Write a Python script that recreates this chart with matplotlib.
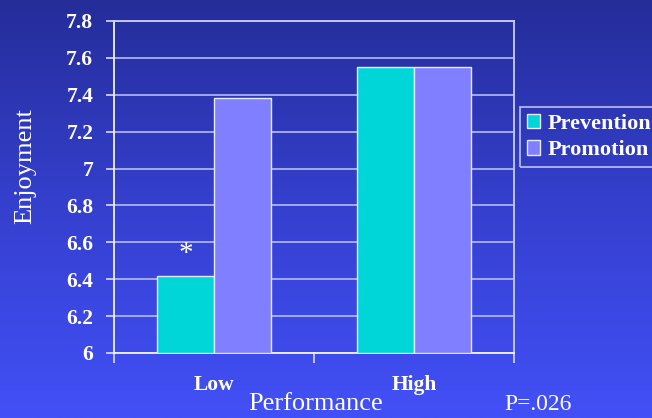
import numpy as np
import matplotlib.pyplot as plt
from matplotlib.colors import LinearSegmentedColormap

# data
categories = ["Low", "High"]
prevention = [6.42, 7.55]
promotion = [7.38, 7.55]
yticks = [6, 6.2, 6.4, 6.6, 6.8, 7, 7.2, 7.4, 7.6, 7.8]
ytick_labels = ["6", "6.2", "6.4", "6.6", "6.8", "7", "7.2", "7.4", "7.6", "7.8"]

plt.rcParams["font.family"] = ["Liberation Serif", "DejaVu Serif"]

W, H = 652, 418
fig = plt.figure(figsize=(W / 100, H / 100), dpi=100)

# blue gradient background (dark at top, brighter at bottom)
bg = fig.add_axes([0, 0, 1, 1], zorder=-10)
grad = LinearSegmentedColormap.from_list("slide", ["#252d99", "#3540cf", "#4250f7"])
bg.imshow(np.linspace(0, 1, 256).reshape(-1, 1), aspect="auto", cmap=grad,
          extent=[0, 1, 0, 1])
bg.axis("off")

ax = fig.add_axes([114 / W, (H - 353) / H, 400 / W, 332 / H])
ax.patch.set_alpha(0)

x = np.arange(len(categories)) + 0.5
bw = 0.285
ax.bar(x - bw / 2, np.array(prevention) - 6, bw, bottom=6, color="#00d6d8",
       edgecolor="#e8ecff", linewidth=1, label="Prevention", zorder=3)
ax.bar(x + bw / 2, np.array(promotion) - 6, bw, bottom=6, color="#7f7fff",
       edgecolor="#e8ecff", linewidth=1, label="Promotion", zorder=3)

ax.set_xlim(0, 2)
ax.set_ylim(6, 7.8)
ax.set_yticks(yticks)
ax.set_yticklabels(ytick_labels, fontsize=15.5, fontweight="bold", color="white")
ax.grid(axis="y", color="#aab2f2", linewidth=1.3, zorder=1)

ax.set_xticks([0, 1, 2])
ax.set_xticklabels([])
ax.set_xticks(x, minor=True)
ax.set_xticklabels(categories, minor=True, fontsize=15.5, fontweight="bold",
                   color="white")
ax.tick_params(axis="x", which="minor", length=0, pad=16)
ax.tick_params(axis="x", which="major", length=7, width=1.2, color="#d8dcff")
ax.tick_params(axis="y", length=6, width=1.2, color="#d8dcff", pad=9)

for side in ["left", "bottom"]:
    ax.spines[side].set_color("#f0f2ff")
    ax.spines[side].set_linewidth(1.3)
for side in ["top", "right"]:
    ax.spines[side].set_color("#c8ceff")
    ax.spines[side].set_linewidth(1.3)

# significance marker
ax.text(x[0] - bw / 2, prevention[0] + 0.045, "*", ha="center", va="bottom",
        fontsize=21, color="white")

fig.text(316 / W, 1 - 404 / H, "Performance", ha="center", va="center",
         fontsize=19, color="white")
fig.text(538 / W, 1 - 404 / H, "P=.026", ha="center", va="center",
         fontsize=17, color="white")
fig.text(25 / W, 1 - 166 / H, "Enjoyment", ha="center", va="center",
         rotation=90, fontsize=19, color="white")

leg = fig.legend(loc="upper left", bbox_to_anchor=(520 / W, 1 - 107 / H),
                 frameon=True, fancybox=False, borderaxespad=0, borderpad=0.3,
                 handlelength=0.62, handleheight=0.6, handletextpad=0.3,
                 labelspacing=0.3,
                 prop={"family": "Liberation Serif", "weight": "bold", "size": 16})
leg.get_frame().set_facecolor("none")
leg.get_frame().set_edgecolor("#e0e4ff")
leg.get_frame().set_linewidth(1.2)
for t in leg.get_texts():
    t.set_color("white")

fig.savefig("out.png", dpi=100)
